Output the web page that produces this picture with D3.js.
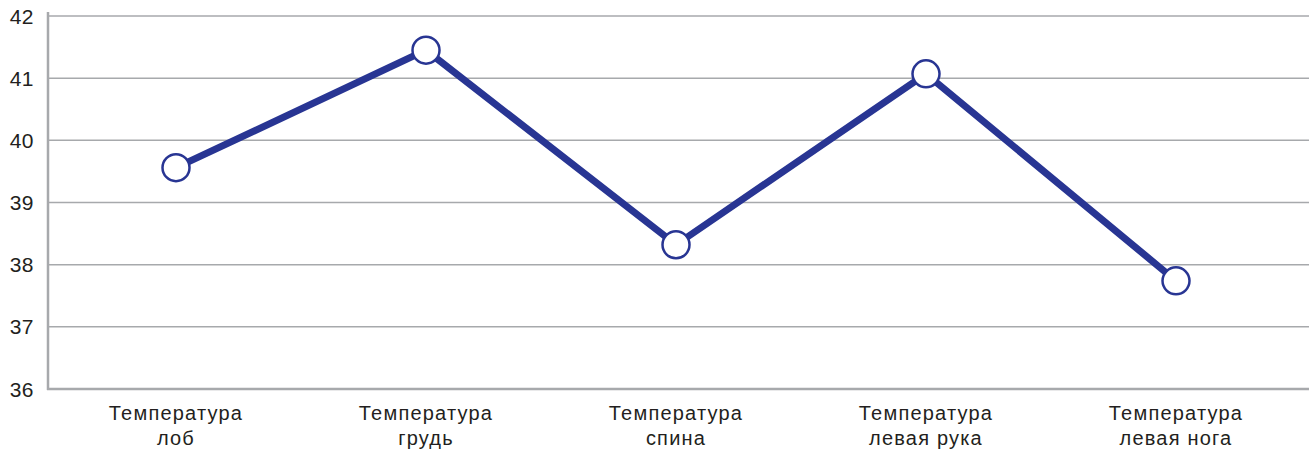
<!DOCTYPE html>
<html lang="ru">
<head>
<meta charset="UTF-8">
<title>Температура</title>
<script src="https://d3js.org/d3.v7.min.js"></script>
<style>
  body { margin: 0; background: #fff; }
  svg text { font-family: "Liberation Sans", Arial, sans-serif; fill: #231f20; }
</style>
</head>
<body>
<div id="chart"></div>
<script>
const width = 1309
const height = 450

const categories = [
  ["Температура", "лоб"],
  ["Температура", "грудь"],
  ["Температура", "спина"],
  ["Температура", "левая рука"],
  ["Температура", "левая нога"]
]
const values = [39.56, 41.45, 38.32, 41.07, 37.74]
const yTicks = [36, 37, 38, 39, 40, 41, 42]

const svg = d3.select("#chart").append("svg")
  .attr("width", width)
  .attr("height", height)

const x = d3.scalePoint()
  .domain(d3.range(categories.length))
  .range([176, 1176])

const y = d3.scaleLinear()
  .domain([36, 42])
  .range([389, 16])

// grid lines
svg.append("g")
  .selectAll("line")
  .data(yTicks.filter(d => d !== 36))
  .enter().append("line")
  .attr("x1", 48)
  .attr("x2", width)
  .attr("y1", d => y(d))
  .attr("y2", d => y(d))
  .attr("stroke", "#a7a9ac")
  .attr("stroke-width", 1.5)

// axes lines
svg.append("line")
  .attr("x1", 48).attr("x2", 48)
  .attr("y1", 12).attr("y2", 390)
  .attr("stroke", "#a7a9ac")
  .attr("stroke-width", 2.5)
svg.append("line")
  .attr("x1", 47).attr("x2", width)
  .attr("y1", y(36)).attr("y2", y(36))
  .attr("stroke", "#a7a9ac")
  .attr("stroke-width", 2.5)

// y tick labels
svg.append("g")
  .selectAll("text")
  .data(yTicks)
  .enter().append("text")
  .attr("x", 34)
  .attr("y", d => y(d) + 7.5)
  .attr("text-anchor", "end")
  .attr("font-size", 21)
  .attr("letter-spacing", 0.5)
  .text(d => d)

// category labels
const catG = svg.append("g")
  .selectAll("text")
  .data(categories)
  .enter().append("text")
  .attr("text-anchor", "middle")
  .attr("font-size", 20)
  .attr("letter-spacing", 1.2)
catG.append("tspan")
  .attr("x", (d, i) => x(i))
  .attr("y", 420)
  .text(d => d[0])
catG.append("tspan")
  .attr("x", (d, i) => x(i))
  .attr("y", 445)
  .text(d => d[1])

// line
const line = d3.line()
  .x((d, i) => x(i))
  .y(d => y(d))
svg.append("path")
  .attr("d", line(values))
  .attr("fill", "none")
  .attr("stroke", "#283593")
  .attr("stroke-width", 7)
  .attr("stroke-linejoin", "miter")

// points
svg.append("g")
  .selectAll("circle")
  .data(values)
  .enter().append("circle")
  .attr("cx", (d, i) => x(i))
  .attr("cy", d => y(d))
  .attr("r", 13.5)
  .attr("fill", "#fff")
  .attr("stroke", "#283593")
  .attr("stroke-width", 2.5)
</script>
</body>
</html>
